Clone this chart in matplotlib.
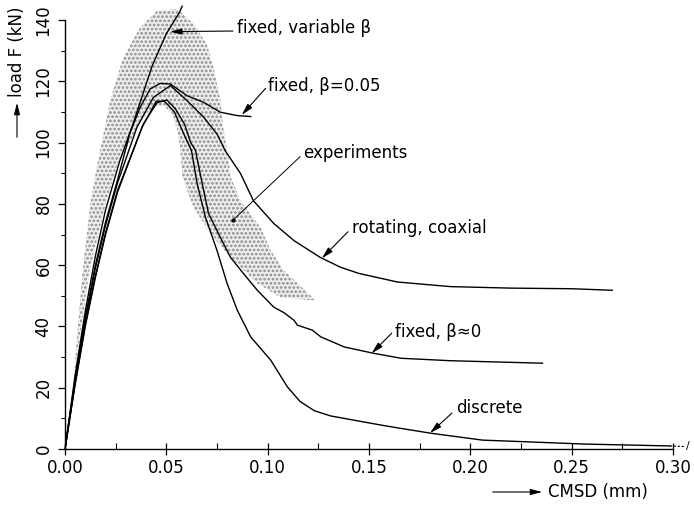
import matplotlib
matplotlib.use("Agg")
import matplotlib.pyplot as plt
from matplotlib.ticker import MultipleLocator, FormatStrFormatter

plt.rcParams['font.family'] = ['DejaVu Sans']
plt.rcParams['hatch.linewidth'] = 1.3

# ---------------- data (CMSD in mm, load in kN) ----------------
var_beta_v = [0, 0.005, 0.010, 0.015, 0.020, 0.027, 0.033, 0.038, 0.043, 0.050, 0.0565, 0.0578]
var_beta_F = [0, 24, 45, 63, 78, 94, 105, 115, 125, 135.5, 142.5, 144.5]

beta005_v = [0, 0.005, 0.010, 0.015, 0.020, 0.026, 0.032, 0.037, 0.042, 0.047, 0.052, 0.0602, 0.0685, 0.0767, 0.085, 0.0916]
beta005_F = [0, 23, 43, 60, 74, 88, 103, 111.4, 117.5, 119.3, 119.1, 115.3, 113.1, 109.9, 108.8, 108.5]

rot_v = [0, 0.005, 0.010, 0.015, 0.020, 0.026, 0.0355, 0.0436, 0.052, 0.0602, 0.0685, 0.075, 0.079,
         0.0866, 0.093, 0.103, 0.113, 0.126, 0.136, 0.145, 0.164, 0.19, 0.22, 0.25, 0.27]
rot_F = [0, 22, 42, 59, 73, 87, 105, 114.7, 118.6, 113.7, 108.2, 102.8, 97.4,
         89.9, 81, 73.6, 68, 62.5, 59.3, 57.3, 54.5, 53, 52.5, 52.3, 51.8]

beta0_v = [0, 0.005, 0.010, 0.015, 0.020, 0.026, 0.0386, 0.0454, 0.0503, 0.0545, 0.059, 0.062, 0.0644,
           0.0677, 0.0708, 0.0767, 0.0817, 0.088, 0.0949, 0.103, 0.108, 0.113, 0.1147, 0.122, 0.1262,
           0.1378, 0.1525, 0.166, 0.1906, 0.2356]
beta0_F = [0, 21, 40, 56, 70, 84, 106, 113, 113.9, 111, 106, 100, 97.4,
           86.6, 76.9, 69, 62.5, 57.3, 51.8, 46.3, 44.5, 42, 40.4, 38.8, 36.6,
           33.3, 31.2, 29.6, 28.8, 28.0]

disc_v = [0, 0.005, 0.010, 0.015, 0.020, 0.026, 0.038, 0.045, 0.049, 0.054, 0.0585, 0.0624, 0.0652,
          0.0693, 0.075, 0.080, 0.085, 0.0916, 0.1015, 0.1097, 0.116, 0.123, 0.131, 0.146, 0.156,
          0.165, 0.181, 0.206, 0.257, 0.2985]
disc_F = [0, 21.5, 40.5, 56.5, 70.5, 84.5, 105, 113.5, 113.5, 110, 103, 97.4, 86.6,
          75.6, 64.8, 54, 45.3, 36.6, 29, 20.3, 15.5, 12.5, 10.8, 9, 7.8,
          6.8, 5.1, 2.9, 1.6, 1.0]

# experimental scatter band: outer (upper) envelope then inner (lower) envelope back
band_outer_v = [0, 0.004, 0.0064, 0.009, 0.0125, 0.0157, 0.0223, 0.0287, 0.037, 0.0454, 0.0553, 0.0634,
                0.070, 0.0733, 0.0767, 0.078, 0.0807, 0.0817, 0.0866, 0.0965, 0.1015, 0.108, 0.12, 0.1235]
band_outer_F = [0, 20, 40, 60, 80, 92, 113.7, 127.7, 137.5, 143, 143.6, 138.8,
                132, 124.5, 113.7, 105, 95, 88.7, 81, 72.3, 64.8, 58.3, 50.8, 48.5]
band_inner_v = [0.1228, 0.1064, 0.095, 0.0817, 0.0718, 0.0634, 0.058, 0.0569, 0.0555, 0.053, 0.049,
                0.045, 0.041, 0.036, 0.031, 0.026, 0.020, 0.012, 0.0065, 0]
band_inner_F = [48.5, 49.5, 54, 62.5, 70.3, 78.8, 88.7, 97.4, 104, 109, 112,
                112, 110, 105, 99, 93, 80, 58, 33, 0]

x_ticks = [0.00, 0.05, 0.10, 0.15, 0.20, 0.25, 0.30]
y_ticks = [0, 20, 40, 60, 80, 100, 120, 140]

# ---------------- figure ----------------
W, H = 694, 507
fig = plt.figure(figsize=(W / 100, H / 100), dpi=100)
ax = fig.add_axes([65 / W, 1 - 449 / H, (673 - 65) / W, (449 - 20) / H])
ax.set_xlim(0, 0.30)
ax.set_ylim(0, 140)

band_v = band_outer_v + band_inner_v
band_F = band_outer_F + band_inner_F
ax.fill(band_v, band_F, facecolor='#eeeeee', edgecolor='#8c8c8c', hatch='....', linewidth=0,
        zorder=1, clip_on=False)

lw = 1.0
ax.plot(var_beta_v, var_beta_F, color='k', lw=lw, clip_on=False, zorder=3)
ax.plot(beta005_v, beta005_F, color='k', lw=lw, zorder=3)
ax.plot(rot_v, rot_F, color='k', lw=lw, zorder=3)
ax.plot(beta0_v, beta0_F, color='k', lw=lw, zorder=3)
ax.plot(disc_v, disc_F, color='k', lw=lw, zorder=3)
# dashed continuation beyond the axis end
ax.plot([disc_v[-1], 0.306], [disc_F[-1], disc_F[-1] - 0.2], color='k', lw=0.8, ls=(0, (2, 1.5)),
        clip_on=False, zorder=3)
ax.text(0.3075, 0.9, '/', fontsize=8, ha='center', va='center', clip_on=False)

# axes style
for s in ['top', 'right']:
    ax.spines[s].set_visible(False)
for s in ['left', 'bottom']:
    ax.spines[s].set_linewidth(1.0)
ax.set_xticks(x_ticks)
ax.set_yticks(y_ticks)
ax.xaxis.set_major_formatter(FormatStrFormatter('%.2f'))
ax.xaxis.set_minor_locator(MultipleLocator(0.025))
ax.yaxis.set_minor_locator(MultipleLocator(10))
ax.tick_params(axis='x', which='major', direction='inout', length=8, width=0.9, labelsize=12, pad=3)
ax.tick_params(axis='x', which='minor', direction='in', length=4, width=0.8)
ax.tick_params(axis='y', which='major', direction='out', length=5, width=0.9, labelsize=12, pad=4)
ax.tick_params(axis='y', which='minor', direction='out', length=3, width=0.8)
for lab in ax.get_yticklabels():
    lab.set_rotation(90)
    lab.set_va('center')

# annotations
arr = dict(arrowstyle='-|>,head_length=0.7,head_width=0.18', color='k', lw=0.8,
           shrinkA=0, shrinkB=0)
fs = 12
ax.text(0.0849, 137.4, 'fixed, variable β', fontsize=fs, ha='left', va='center')
ax.annotate('', xy=(0.0518, 136.2), xytext=(0.0829, 136.4), arrowprops=arr)

ax.text(0.1002, 118.5, 'fixed, β=0.05', fontsize=fs, ha='left', va='center')
ax.annotate('', xy=(0.0872, 109.0), xytext=(0.0990, 117.7), arrowprops=arr)

ax.text(0.1174, 96.6, 'experiments', fontsize=fs, ha='left', va='center')
ax.plot([0.1160, 0.0829], [95.4, 74.7], color='k', lw=0.7, zorder=4)
ax.plot([0.0829], [74.7], 'o', color='k', ms=2, zorder=4)

ax.text(0.1416, 72.1, 'rotating, coaxial', fontsize=fs, ha='left', va='center')
ax.annotate('', xy=(0.1267, 62.2), xytext=(0.1396, 70.9), arrowprops=arr)

ax.text(0.1628, 38.2, 'fixed, β≈0', fontsize=fs, ha='left', va='center')
ax.annotate('', xy=(0.1513, 31.2), xytext=(0.1612, 37.8), arrowprops=arr)

ax.text(0.1929, 13.4, 'discrete', fontsize=fs, ha='left', va='center')
ax.annotate('', xy=(0.1801, 5.2), xytext=(0.1909, 11.7), arrowprops=arr)

# axis labels with arrows (figure pixel coordinates)
fig.text(548 / W, 1 - 492 / H, 'CMSD (mm)', fontsize=fs, ha='left', va='center')
fig.add_artist(matplotlib.patches.FancyArrowPatch((490 / W, 1 - 492 / H), (545 / W, 1 - 492 / H),
               transform=fig.transFigure, arrowstyle='-|>,head_length=0.7,head_width=0.18',
               color='k', lw=0.8, mutation_scale=10))
fig.text(17 / W, 1 - 52 / H, 'load F (kN)', fontsize=fs, ha='center', va='center', rotation=90)
fig.add_artist(matplotlib.patches.FancyArrowPatch((17 / W, 1 - 140 / H), (17 / W, 1 - 100 / H),
               transform=fig.transFigure, arrowstyle='-|>,head_length=0.7,head_width=0.18',
               color='k', lw=0.8, mutation_scale=10))

fig.savefig('out.png', dpi=100)
